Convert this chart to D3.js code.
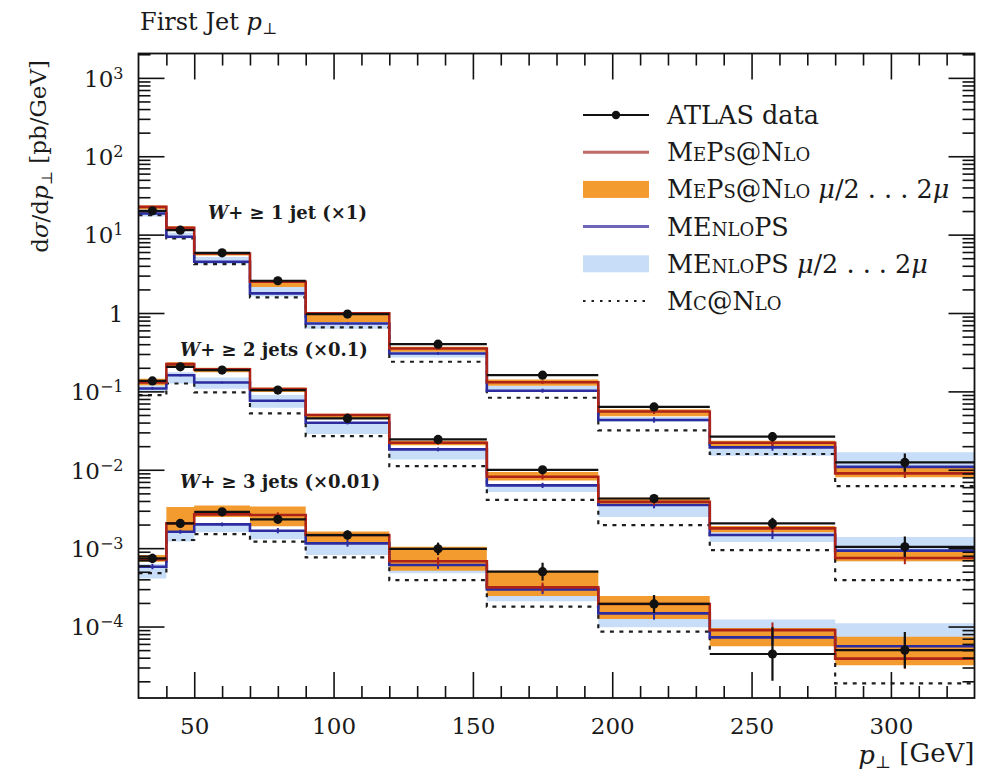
<!DOCTYPE html>
<html>
<head>
<meta charset="utf-8">
<script src="https://cdn.jsdelivr.net/npm/d3@7"></script>
<style>
  body { margin: 0; background: #fff; }
  svg { display: block; }
  text { font-family: "DejaVu Serif", "Liberation Serif", serif; fill: #1a1a1a; }
</style>
</head>
<body>
<svg id="chart" width="988" height="774"></svg>
<script>
// Bin edges of the leading-jet pT histogram [GeV]
const binEdges = [30, 40, 50, 70, 90, 120, 155, 195, 235, 280, 330];

// W + >= 1 jet (x1)
const w1Data     = [20.1, 11.4, 5.86, 2.58, 0.97, 0.40, 0.161, 0.0634, 0.0264, 0.0124];
const w1DataErr  = [1.05, 1.05, 1.05, 1.05, 1.06, 1.07, 1.08, 1.10, 1.15, 1.30];
const w1Meps     = [22.6, 12.2, 5.75, 2.50, 0.99, 0.353, 0.131, 0.0555, 0.0221, 0.0090];
const w1MepsLo   = [21.0, 11.5, 5.40, 2.15, 0.77, 0.320, 0.118, 0.048, 0.0195, 0.0080];
const w1MepsHi   = [23.5, 12.8, 6.00, 2.60, 1.02, 0.370, 0.142, 0.059, 0.0235, 0.0105];
const w1MepsErr  = [1.02, 1.02, 1.02, 1.02, 1.03, 1.04, 1.05, 1.08, 1.10, 1.15];
const w1Menlo    = [18.6, 9.4, 4.50, 1.78, 0.736, 0.305, 0.102, 0.0431, 0.0193, 0.0109];
const w1MenloLo  = [17.0, 8.9, 4.20, 1.62, 0.63, 0.270, 0.098, 0.041, 0.0151, 0.0083];
const w1MenloHi  = [19.5, 10.6, 5.20, 2.15, 0.77, 0.340, 0.117, 0.047, 0.0195, 0.0167];
const w1MenloErr = [1.02, 1.02, 1.02, 1.03, 1.03, 1.04, 1.06, 1.08, 1.10, 1.15];
const w1Mcnlo    = [17.7, 8.95, 4.20, 1.58, 0.655, 0.239, 0.083, 0.0319, 0.0159, 0.0062];

// W + >= 2 jets (x0.1)
const w2Data     = [0.136, 0.206, 0.187, 0.104, 0.0452, 0.0244, 0.00998, 0.0043, 0.00207, 0.00104];
const w2DataErr  = [1.08, 1.06, 1.06, 1.06, 1.07, 1.08, 1.10, 1.12, 1.18, 1.35];
const w2Meps     = [0.130, 0.223, 0.191, 0.107, 0.0499, 0.0221, 0.00815, 0.0039, 0.00179, 0.00075];
const w2MepsLo   = [0.120, 0.200, 0.175, 0.098, 0.0450, 0.0205, 0.0073, 0.0035, 0.00160, 0.00068];
const w2MepsHi   = [0.145, 0.235, 0.200, 0.112, 0.0520, 0.0235, 0.0094, 0.0044, 0.00192, 0.00092];
const w2MepsErr  = [1.04, 1.03, 1.03, 1.04, 1.05, 1.06, 1.08, 1.10, 1.12, 1.20];
const w2Menlo    = [0.109, 0.161, 0.130, 0.076, 0.0398, 0.0182, 0.00632, 0.00355, 0.00147, 0.00093];
const w2MenloLo  = [0.098, 0.126, 0.108, 0.062, 0.0285, 0.0135, 0.0052, 0.0025, 0.0012, 0.00068];
const w2MenloHi  = [0.120, 0.175, 0.150, 0.090, 0.0400, 0.0185, 0.0065, 0.0036, 0.0016, 0.00139];
const w2MenloErr = [1.04, 1.03, 1.03, 1.04, 1.05, 1.06, 1.08, 1.10, 1.12, 1.20];
const w2Mcnlo    = [0.0898, 0.126, 0.097, 0.0523, 0.0269, 0.0111, 0.00413, 0.00197, 0.000946, 0.000392];

// W + >= 3 jets (x0.01)
const w3Data     = [0.00074, 0.00207, 0.00291, 0.00233, 0.00147, 0.00098, 0.000501, 0.000194, 4.46e-5, 5.0e-5];
const w3DataErr  = [1.15, 1.12, 1.10, 1.12, 1.15, 1.20, 1.30, 1.30, 2.20, 1.70];
const w3Meps     = [0.00072, 0.00207, 0.00270, 0.00265, 0.00147, 0.00068, 0.000316, 0.000194, 9.0e-5, 3.9e-5];
const w3MepsLo   = [0.00067, 0.00164, 0.00250, 0.00190, 0.00119, 0.000515, 0.000245, 0.000125, 5.6e-5, 3.2e-5];
const w3MepsHi   = [0.00082, 0.00335, 0.00350, 0.00340, 0.00163, 0.00104, 0.000515, 0.000245, 9.6e-5, 7.4e-5];
const w3MepsErr  = [1.08, 1.06, 1.06, 1.08, 1.10, 1.12, 1.15, 1.20, 1.25, 1.35];
const w3Menlo    = [0.00058, 0.00162, 0.00201, 0.00167, 0.00115, 0.00061, 0.000298, 0.000147, 7.28e-5, 5.6e-5];
const w3MenloLo  = [0.00041, 0.00122, 0.00160, 0.00130, 0.00082, 0.00048, 0.00021, 0.000098, 7.0e-5, 4.0e-5];
const w3MenloHi  = [0.00063, 0.00177, 0.00210, 0.00170, 0.00119, 0.00063, 0.00030, 0.00015, 1.23e-4, 1.1e-4];
const w3MenloErr = [1.08, 1.06, 1.06, 1.08, 1.10, 1.12, 1.15, 1.20, 1.25, 1.30];
const w3Mcnlo    = [0.00048, 0.00127, 0.00151, 0.00121, 0.000764, 0.00039, 0.000179, 8.59e-5, 4.46e-5, 1.88e-5];

// Axis ticks and labels
const xMajorTicks = [50, 100, 150, 200, 250, 300];
const yDecades = [-4, -3, -2, -1, 0, 1, 2, 3];
const groupLabels = [
  { jets: "1 jet", scale: "(×1)" },
  { jets: "2 jets", scale: "(×0.1)" },
  { jets: "3 jets", scale: "(×0.01)" }
];
const legendLabels = ["ATLAS data", "MePs@Nlo", "MePs@Nlo", "MEnloPS", "MEnloPS", "Mc@Nlo"];

// ---------------------------------------------------------------------------
const colors = {
  data: "#111111",
  meps: "#ad2318",
  mepsBand: "#f39b2f",
  menlo: "#2c2ca0",
  menloBand: "#c8ddf8",
  mcnlo: "#1e1e1e"
};

const groups = [
  { data: w1Data, dataErr: w1DataErr, meps: w1Meps, mepsLo: w1MepsLo, mepsHi: w1MepsHi, mepsErr: w1MepsErr,
    menlo: w1Menlo, menloLo: w1MenloLo, menloHi: w1MenloHi, menloErr: w1MenloErr, mcnlo: w1Mcnlo },
  { data: w2Data, dataErr: w2DataErr, meps: w2Meps, mepsLo: w2MepsLo, mepsHi: w2MepsHi, mepsErr: w2MepsErr,
    menlo: w2Menlo, menloLo: w2MenloLo, menloHi: w2MenloHi, menloErr: w2MenloErr, mcnlo: w2Mcnlo },
  { data: w3Data, dataErr: w3DataErr, meps: w3Meps, mepsLo: w3MepsLo, mepsHi: w3MepsHi, mepsErr: w3MepsErr,
    menlo: w3Menlo, menloLo: w3MenloLo, menloHi: w3MenloHi, menloErr: w3MenloErr, mcnlo: w3Mcnlo }
];

const frame = { left: 138.5, right: 974.5, top: 53.5, bottom: 698 };
const svg = d3.select("#chart");

const x = d3.scaleLinear().domain([30, 330]).range([frame.left, frame.right]);
const y = d3.scaleLog().domain([1.225e-5, 2046]).range([frame.bottom, frame.top]);

const plotW = frame.right - frame.left;
const plotH = frame.bottom - frame.top;

svg.append("defs").append("clipPath").attr("id", "clip")
  .append("rect").attr("x", frame.left).attr("y", frame.top).attr("width", plotW).attr("height", plotH);

const layer = svg.append("g").attr("clip-path", "url(#clip)");

// Step-shaped point lists: each bin contributes its two edges
function stepPoints(values) {
  const pts = [];
  values.forEach((v, i) => { pts.push([binEdges[i], v]); pts.push([binEdges[i + 1], v]); });
  return pts;
}
function bandPoints(lo, hi) {
  const pts = [];
  lo.forEach((l, i) => {
    pts.push({ x: binEdges[i], lo: l, hi: hi[i] });
    pts.push({ x: binEdges[i + 1], lo: l, hi: hi[i] });
  });
  return pts;
}
const area = d3.area().x(d => x(d.x)).y0(d => y(d.lo)).y1(d => y(d.hi));
const line = d3.line().x(d => x(d[0])).y(d => y(d[1]));
const centers = binEdges.slice(0, -1).map((e, i) => (e + binEdges[i + 1]) / 2);

// Scale-variation bands
groups.forEach(g => {
  layer.append("path").attr("d", area(bandPoints(g.menloLo, g.menloHi))).attr("fill", colors.menloBand);
});
groups.forEach(g => {
  layer.append("path").attr("d", area(bandPoints(g.mepsLo, g.mepsHi))).attr("fill", colors.mepsBand);
});

// MC@NLO dotted histograms
groups.forEach(g => {
  layer.append("path").attr("d", line(stepPoints(g.mcnlo)))
    .attr("fill", "none").attr("stroke", colors.mcnlo).attr("stroke-width", 2.2)
    .attr("stroke-dasharray", "4,5.5");
});

// MEnloPS and MEPS@NLO histograms with statistical error bars
function mcHist(values, errs, color) {
  layer.append("path").attr("d", line(stepPoints(values)))
    .attr("fill", "none").attr("stroke", color).attr("stroke-width", 2.6);
  layer.append("g").selectAll("line").data(values).join("line")
    .attr("x1", (d, i) => x(centers[i])).attr("x2", (d, i) => x(centers[i]))
    .attr("y1", (d, i) => y(d * errs[i])).attr("y2", (d, i) => y(d / errs[i]))
    .attr("stroke", color).attr("stroke-width", 2);
}
groups.forEach(g => mcHist(g.menlo, g.menloErr, colors.menlo));
groups.forEach(g => mcHist(g.meps, g.mepsErr, colors.meps));

// ATLAS data: bin-width bars, error bars, markers
groups.forEach(g => {
  const gd = layer.append("g");
  gd.selectAll("line.h").data(g.data).join("line").attr("class", "h")
    .attr("x1", (d, i) => x(binEdges[i])).attr("x2", (d, i) => x(binEdges[i + 1]))
    .attr("y1", d => y(d)).attr("y2", d => y(d))
    .attr("stroke", colors.data).attr("stroke-width", 2.2);
  gd.selectAll("line.v").data(g.data).join("line").attr("class", "v")
    .attr("x1", (d, i) => x(centers[i])).attr("x2", (d, i) => x(centers[i]))
    .attr("y1", (d, i) => y(d * g.dataErr[i])).attr("y2", (d, i) => y(d / g.dataErr[i]))
    .attr("stroke", colors.data).attr("stroke-width", 2.2);
  gd.selectAll("circle").data(g.data).join("circle")
    .attr("cx", (d, i) => x(centers[i])).attr("cy", d => y(d)).attr("r", 4.6)
    .attr("fill", colors.data);
});

// Frame and ticks on all four sides
const minorX = d3.range(40, 330, 10).filter(v => v % 50 !== 0);
const minorY = [];
for (let p = -5; p <= 3; p++) for (let m = 2; m <= 9; m++) {
  const v = m * Math.pow(10, p);
  if (v > 1.225e-5 && v < 2046) minorY.push(v);
}
const majorY = yDecades.map(p => Math.pow(10, p));

function styleAxis(g) {
  g.select(".domain").remove();
  g.selectAll(".tick line").attr("stroke", "#111").attr("stroke-width", 1.6);
}
const MAJ = 26, MIN = 12;

svg.append("g").attr("transform", `translate(0,${frame.bottom})`)
  .call(d3.axisBottom(x).tickValues(minorX).tickSizeInner(-MIN).tickSizeOuter(0).tickFormat(""))
  .call(styleAxis);
const xb = svg.append("g").attr("transform", `translate(0,${frame.bottom})`)
  .call(d3.axisBottom(x).tickValues(xMajorTicks).tickSizeInner(-MAJ).tickSizeOuter(0).tickPadding(20).tickFormat(d3.format("d")))
  .call(styleAxis);
xb.selectAll(".tick text").attr("font-size", 23).attr("fill", "#1a1a1a")
  .attr("font-family", '"DejaVu Serif", serif');

svg.append("g").attr("transform", `translate(0,${frame.top})`)
  .call(d3.axisTop(x).tickValues(minorX).tickSizeInner(-MIN).tickSizeOuter(0).tickFormat(""))
  .call(styleAxis);
svg.append("g").attr("transform", `translate(0,${frame.top})`)
  .call(d3.axisTop(x).tickValues(xMajorTicks).tickSizeInner(-MAJ).tickSizeOuter(0).tickFormat(""))
  .call(styleAxis);

svg.append("g").attr("transform", `translate(${frame.left},0)`)
  .call(d3.axisLeft(y).tickValues(minorY).tickSizeInner(-MIN).tickSizeOuter(0).tickFormat(""))
  .call(styleAxis);
const yl = svg.append("g").attr("transform", `translate(${frame.left},0)`)
  .call(d3.axisLeft(y).tickValues(majorY).tickSizeInner(-MAJ).tickSizeOuter(0).tickPadding(15).tickFormat(""))
  .call(styleAxis);

svg.append("g").attr("transform", `translate(${frame.right},0)`)
  .call(d3.axisRight(y).tickValues(minorY).tickSizeInner(-MIN).tickSizeOuter(0).tickFormat(""))
  .call(styleAxis);
svg.append("g").attr("transform", `translate(${frame.right},0)`)
  .call(d3.axisRight(y).tickValues(majorY).tickSizeInner(-MAJ).tickSizeOuter(0).tickFormat(""))
  .call(styleAxis);

// Decade labels with superscript exponents
yl.selectAll(".tick text").each(function (d) {
  const p = Math.round(Math.log10(d));
  const t = d3.select(this).text(null).attr("font-size", 23).attr("fill", "#1a1a1a")
    .attr("font-family", '"DejaVu Serif", serif').attr("dy", "0.36em");
  if (p === 0) { t.text("1"); return; }
  t.append("tspan").text("10");
  t.append("tspan").attr("dy", "-0.5em").attr("font-size", 16)
    .text(p < 0 ? "\u2212" + (-p) : String(p));
});

svg.append("rect").attr("x", frame.left).attr("y", frame.top).attr("width", plotW).attr("height", plotH)
  .attr("fill", "none").attr("stroke", "#111").attr("stroke-width", 1.8);

// Titles and axis labels
const title = svg.append("text").attr("x", 140).attr("y", 30).attr("font-size", 24);
title.append("tspan").text("First Jet ");
title.append("tspan").attr("font-style", "italic").text("p");
title.append("tspan").attr("font-size", 16).attr("dy", "0.25em").text("\u22a5");

const xl = svg.append("text").attr("x", frame.right).attr("y", 764).attr("text-anchor", "end").attr("font-size", 26);
xl.append("tspan").attr("font-style", "italic").text("p");
xl.append("tspan").attr("font-size", 17).attr("dy", "0.25em").text("\u22a5");
xl.append("tspan").attr("dy", "-0.25em").text(" [GeV]");

const ylab = svg.append("text").attr("transform", "translate(48,60) rotate(-90)")
  .attr("text-anchor", "end").attr("font-size", 23);
ylab.append("tspan").text("d");
ylab.append("tspan").attr("font-style", "italic").text("σ");
ylab.append("tspan").text("/d");
ylab.append("tspan").attr("font-style", "italic").text("p");
ylab.append("tspan").attr("font-size", 15).attr("dy", "0.25em").text("\u22a5");
ylab.append("tspan").attr("dy", "-0.25em").text(" [pb/GeV]");

// Multiplicity labels
const groupLabelPos = [[208, 219], [180, 356], [180, 488]];
groupLabels.forEach((gl, i) => {
  const t = svg.append("text").attr("x", groupLabelPos[i][0]).attr("y", groupLabelPos[i][1])
    .attr("font-size", 18).attr("font-weight", "bold");
  t.append("tspan").attr("font-style", "italic").text("W");
  t.append("tspan").text("+ ≥ " + gl.jets + " " + gl.scale);
});

// Legend
const leg = svg.append("g");
const legX0 = 583, legX1 = 649, legTx = 667, legY0 = 115, legDy = 37.2;
const legendRows = [
  { label: legendLabels[0], kind: "data" },
  { label: legendLabels[1], kind: "meps" },
  { label: legendLabels[2], kind: "mepsBand", mu: true },
  { label: legendLabels[3], kind: "menlo" },
  { label: legendLabels[4], kind: "menloBand", mu: true },
  { label: legendLabels[5], kind: "mcnlo" }
];
legendRows.forEach((r, i) => {
  const cy = legY0 + i * legDy;
  if (r.kind === "data") {
    leg.append("line").attr("x1", legX0).attr("x2", legX1).attr("y1", cy).attr("y2", cy)
      .attr("stroke", colors.data).attr("stroke-width", 2);
    leg.append("circle").attr("cx", (legX0 + legX1) / 2).attr("cy", cy).attr("r", 4.2).attr("fill", colors.data);
  } else if (r.kind === "mepsBand" || r.kind === "menloBand") {
    leg.append("rect").attr("x", legX0).attr("y", cy - 8.5).attr("width", legX1 - legX0).attr("height", 17)
      .attr("fill", colors[r.kind]);
  } else if (r.kind === "mcnlo") {
    leg.append("line").attr("x1", legX0).attr("x2", legX1).attr("y1", cy).attr("y2", cy)
      .attr("stroke", colors.mcnlo).attr("stroke-width", 2).attr("stroke-dasharray", "2.5,6");
  } else {
    leg.append("line").attr("x1", legX0).attr("x2", legX1).attr("y1", cy).attr("y2", cy)
      .attr("stroke", r.kind === "meps" ? "#c06a66" : "#6e66b8").attr("stroke-width", 3);
  }
  const t = leg.append("text").attr("x", legTx).attr("y", cy + 9).attr("font-size", 25.5);
  t.append("tspan").attr("font-variant", r.kind === "data" ? "normal" : "small-caps").text(r.label);
  if (r.mu) {
    t.append("tspan").attr("font-style", "italic").text(" μ");
    t.append("tspan").text("/2 . . . 2");
    t.append("tspan").attr("font-style", "italic").text("μ");
  }
});
</script>
</body>
</html>
